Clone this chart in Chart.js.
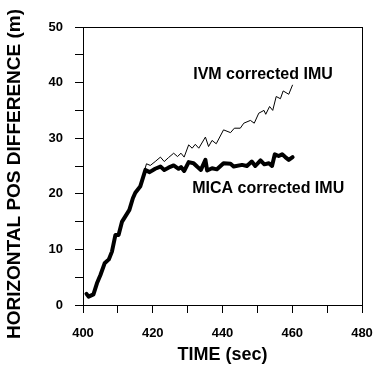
<!DOCTYPE html>
<html>
<head>
<meta charset="utf-8">
<script src="https://cdn.jsdelivr.net/npm/chart.js@4"></script>
<style>
  html, body { margin: 0; padding: 0; background: #fff; }
  #wrap { width: 375px; height: 368px; }
</style>
</head>
<body>
<div id="wrap"><canvas id="chart" width="375" height="368"></canvas></div>
<script>
// Data
const micaTime = [401, 401.6, 403, 404, 405, 406.2, 407.4, 408.3, 409.3, 410.2, 411.2, 412.1, 413.3, 414.3, 415, 416.4, 417.9,
    419.1, 420.7, 422.2, 423.3, 424.5, 426, 427.4, 428.1, 429, 430.3, 431.7, 432.7, 433.8, 435.1, 435.6, 437, 438.4,
    440.3, 442.3, 443.2, 445.6, 447, 448.4, 449.4, 450.9, 452, 453.3, 454.2, 455, 456.1, 457.1, 458, 459, 460.1];
const micaPos = [2.0, 1.5, 1.9, 3.9, 5.4, 7.5, 8.2, 9.6, 12.6, 12.6, 15.0, 15.9, 17.1, 19.2, 20.2, 21.3, 24.3,
    23.9, 24.5, 24.9, 24.3, 24.7, 25.1, 24.5, 24.8, 24.1, 25.7, 25.5, 24.9, 24.3, 26.1, 24.2, 24.6, 24.4,
    25.5, 25.4, 24.9, 25.2, 25.0, 25.8, 25.0, 26.0, 25.3, 25.5, 25.0, 27.1, 26.8, 27.1, 26.6, 26.1, 26.6];

const ivmTime = [401, 401.6, 403, 404, 405, 406.2, 407.4, 408.3, 409.3, 410.2, 411.2, 412.1, 413.3, 414.3, 415, 416.4, 418.2,
    419.3, 420.7, 422.2, 423.3, 424.5, 426, 427.1, 428.1, 429, 430.3, 431.3, 432.2, 433.2, 435.1, 436, 437, 438.2,
    440.3, 442.3, 443.4, 445.1, 446.1, 448, 449.1, 450.4, 451.9, 452.4, 453.5, 454.4, 455.4, 456.6, 457.4, 459, 460.1];
const ivmPos = [2.0, 1.5, 1.9, 3.9, 5.4, 7.5, 8.2, 9.6, 12.6, 12.6, 15.0, 15.9, 17.1, 19.2, 20.2, 21.5, 25.4,
    25.1, 25.8, 26.6, 25.8, 26.5, 27.3, 26.7, 27.3, 26.6, 28.8, 28.2, 28.9, 28.2, 30.2, 28.5, 29.6, 29.0,
    31.5, 31.0, 31.8, 31.8, 32.7, 33.2, 32.7, 34.5, 35.0, 34.3, 35.7, 35.0, 37.5, 37.1, 38.5, 37.9, 39.6];

const seriesNames = ['IVM corrected IMU', 'MICA corrected IMU'];
const xTitle = 'TIME (sec)';
const yTitle = 'HORIZONTAL POS DIFFERENCE (m)';

// where the in-plot labels sit (data units, left edge / middle)
const labelSpots = [{ x: 431.6, y: 41.4 }, { x: 431.3, y: 20.9 }];

const FONT = "'Liberation Sans', Arial, sans-serif";

function toPoints(xs, ys) {
    return xs.map((x, i) => ({ x: x, y: ys[i] }));
}

// box around the plot, y title, and text labels next to the lines
const frameAndLabels = {
    id: 'frameAndLabels',
    afterDatasetsDraw(chart) {
        const { ctx, chartArea, scales } = chart;
        ctx.save();
        ctx.strokeStyle = '#000';
        ctx.lineWidth = 1;
        ctx.strokeRect(chartArea.left + 0.5, chartArea.top + 0.5,
            chartArea.right - chartArea.left, chartArea.bottom - chartArea.top);

        ctx.fillStyle = '#000';
        ctx.font = 'bold 16px ' + FONT;
        ctx.textAlign = 'left';
        ctx.textBaseline = 'middle';
        seriesNames.forEach((name, i) => {
            ctx.fillText(name, scales.x.getPixelForValue(labelSpots[i].x), scales.y.getPixelForValue(labelSpots[i].y));
        });

        // y title, sits a bit lower than the plot centre in the original
        ctx.translate(15, 174);
        ctx.rotate(-Math.PI / 2);
        ctx.font = 'bold 19px ' + FONT;
        ctx.textAlign = 'center';
        ctx.fillText(yTitle, 0, 0);
        ctx.restore();
    }
};

const ctx = document.getElementById('chart').getContext('2d');
new Chart(ctx, {
    type: 'line',
    data: {
        datasets: [
            {
                label: seriesNames[1],
                data: toPoints(micaTime, micaPos),
                borderColor: '#000',
                borderWidth: 4,
                borderJoinStyle: 'round',
                borderCapStyle: 'round',
                pointRadius: 0,
                tension: 0,
                fill: false
            },
            {
                label: seriesNames[0],
                data: toPoints(ivmTime, ivmPos),
                borderColor: '#000',
                borderWidth: 1,
                pointRadius: 0,
                tension: 0,
                fill: false
            }
        ]
    },
    options: {
        responsive: false,
        animation: false,
        events: [],
        layout: { padding: { top: 27, right: 13, left: 0, bottom: 0 } },
        plugins: {
            legend: { display: false },
            tooltip: { enabled: false }
        },
        scales: {
            x: {
                type: 'linear',
                min: 400,
                max: 480,
                afterFit: function(scale) {
                    scale.height = 63;
                    scale.paddingLeft = 0;
                    scale.paddingRight = 0;
                },
                ticks: {
                    stepSize: 10,
                    maxRotation: 0,
                    padding: 13,
                    color: '#000',
                    font: { family: FONT, size: 13, weight: 'bold' },
                    callback: function(value) { return value % 20 === 0 ? value : ''; }
                },
                grid: { drawOnChartArea: false, drawTicks: true, tickLength: 8, color: '#000' },
                border: { color: '#000', width: 1 },
                title: {
                    display: true,
                    text: xTitle,
                    color: '#000',
                    font: { family: FONT, size: 18, weight: 'bold' },
                    padding: { top: 0, bottom: 2 }
                }
            },
            y: {
                type: 'linear',
                min: 0,
                max: 50,
                afterFit: function(scale) {
                    scale.width = 83;
                    scale.paddingTop = 0;
                    scale.paddingBottom = 0;
                },
                ticks: {
                    stepSize: 5,
                    padding: 12,
                    color: '#000',
                    font: { family: FONT, size: 13, weight: 'bold' },
                    callback: function(value) { return value % 10 === 0 ? value : ''; }
                },
                grid: { drawOnChartArea: false, drawTicks: true, tickLength: 8, color: '#000' },
                border: { color: '#000', width: 1 }
            }
        }
    },
    plugins: [frameAndLabels]
});
</script>
</body>
</html>
